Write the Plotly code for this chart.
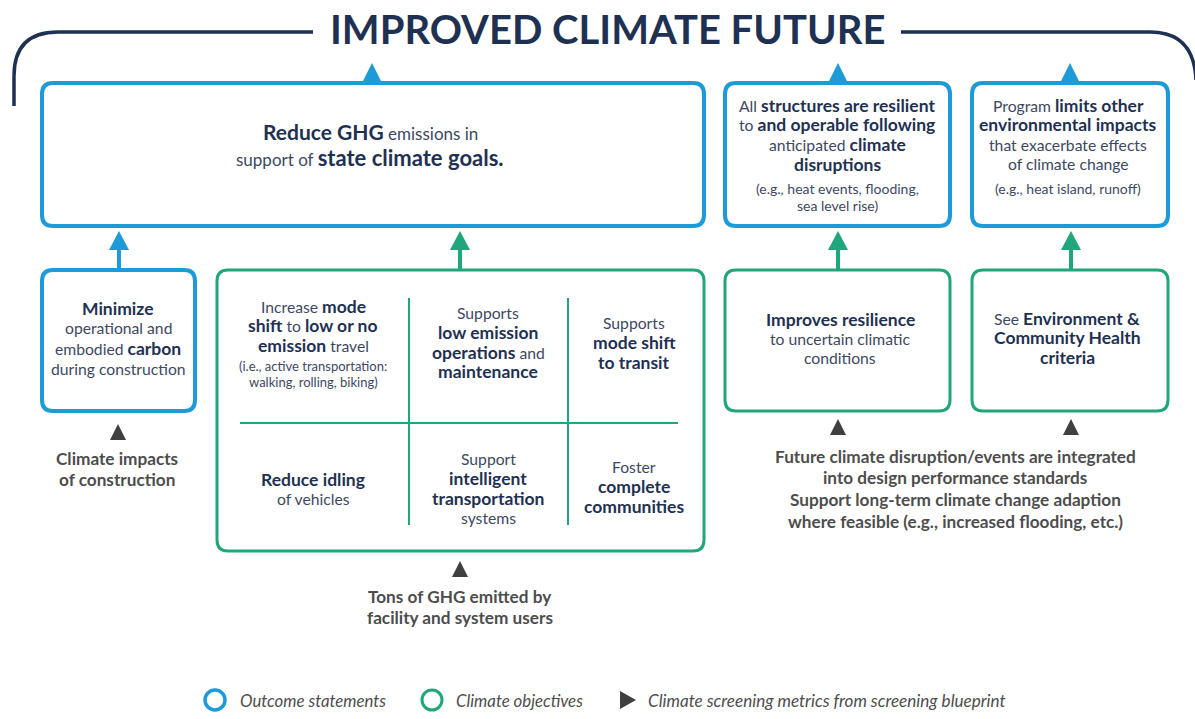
import plotly.graph_objects as go

W, H = 1195, 719
NAVY = "#1f3152"
TEXT = "#3d4862"
BLUE = "#1d9bd8"
GREEN = "#1fa67a"
DARK = "#404040"
GRAY = "#4d4d4d"
FONT = "Lato"

# ---------------- content ----------------
title_text = "IMPROVED CLIMATE FUTURE"

outcome_main = ["<b>Reduce GHG</b> emissions in",
                "support of <b>state climate goals.</b>"]
outcome_resilient = ["All <b>structures are resilient</b>",
                     "to <b>and operable following</b>",
                     "anticipated <b>climate</b>",
                     "<b>disruptions</b>"]
outcome_resilient_note = ["(e.g., heat events, flooding,", "sea level rise)"]
outcome_env = ["Program <b>limits other</b>",
               "<b>environmental impacts</b>",
               "that exacerbate effects",
               "of climate change"]
outcome_env_note = ["(e.g., heat island, runoff)"]

objective_carbon = ["<b>Minimize</b>", "operational and",
                    "embodied <b>carbon</b>", "during construction"]
objective_cells = [
    ["Increase <b>mode</b>", "<b>shift</b> to <b>low or no</b>", "<b>emission</b> travel"],
    ["Supports", "<b>low emission</b>", "<b>operations</b> and", "<b>maintenance</b>"],
    ["Supports", "<b>mode shift</b>", "<b>to transit</b>"],
    ["<b>Reduce idling</b>", "of vehicles"],
    ["Support", "<b>intelligent</b>", "<b>transportation</b>", "systems"],
    ["Foster", "<b>complete</b>", "<b>communities</b>"],
]
objective_cell1_note = ["(i.e., active transportation:", "walking, rolling, biking)"]
objective_resilience = ["<b>Improves resilience</b>", "to uncertain climatic", "conditions"]
objective_env = ["See <b>Environment &</b>", "<b>Community Health</b>", "<b>criteria</b>"]

metric_construction = ["Climate impacts", "of construction"]
metric_ghg = ["Tons of GHG emitted by", "facility and system users"]
metric_resilience = ["Future climate disruption/events are integrated",
                     "into design performance standards",
                     "Support long-term climate change adaption",
                     "where feasible (e.g., increased flooding, etc.)"]

legend_labels = ["Outcome statements", "Climate objectives",
                 "Climate screening metrics from screening blueprint"]

# ---------------- helpers ----------------
shapes = []
annotations = []


def rrect(x0, y0, x1, y1, r, color, w=4):
    p = (f"M{x0+r},{y0} L{x1-r},{y0} Q{x1},{y0} {x1},{y0+r} L{x1},{y1-r} "
         f"Q{x1},{y1} {x1-r},{y1} L{x0+r},{y1} Q{x0},{y1} {x0},{y1-r} "
         f"L{x0},{y0+r} Q{x0},{y0} {x0+r},{y0} Z")
    shapes.append(dict(type="path", path=p, line=dict(color=color, width=w),
                       fillcolor="rgba(0,0,0,0)", xref="x", yref="y"))


def tri_up(cx, ytip, ybase, half, color):
    p = f"M{cx-half},{ybase} L{cx+half},{ybase} L{cx},{ytip} Z"
    shapes.append(dict(type="path", path=p, line=dict(color=color, width=0),
                       fillcolor=color, xref="x", yref="y"))


def arrow_up(cx, ytop, ybot, color):
    shapes.append(dict(type="line", x0=cx, x1=cx, y0=ybot, y1=ytop + 16,
                       line=dict(color=color, width=4), xref="x", yref="y"))
    tri_up(cx, ytop, ytop + 19, 10, color)


def line(x0, y0, x1, y1, color, w=2):
    shapes.append(dict(type="line", x0=x0, x1=x1, y0=y0, y1=y1,
                       line=dict(color=color, width=w), xref="x", yref="y"))


def rich(t, bold_size, bold_color=NAVY):
    return (t.replace("<b>", f"<b><span style='font-size:{bold_size}px;color:{bold_color}'>")
             .replace("</b>", "</span></b>"))


def text_lines(lines, cx, y0, dy, size, color=TEXT, italic=False, anchor="center",
               bold_size=None):
    for i, t in enumerate(lines):
        if bold_size:
            t = rich(t, bold_size)
        if italic:
            t = f"<i>{t}</i>"
        annotations.append(dict(x=cx, y=y0 + i * dy, xref="x", yref="y", text=t,
                                showarrow=False, xanchor=anchor, yanchor="middle",
                                font=dict(family=FONT, size=size, color=color)))


REG, BOLD = 15.7, 17.5

# ---------------- bracket + title ----------------
bracket = ("M14,106 L14,76 Q14,32 58,32 L313,32 "
           "M901,32 L1150,32 Q1194,32 1196,80")
shapes.append(dict(type="path", path=bracket, line=dict(color=NAVY, width=3.5),
                   xref="x", yref="y"))
annotations.append(dict(x=607, y=29, xref="x", yref="y", text="<b>%s</b>" % title_text,
                        showarrow=False, xanchor="center", yanchor="middle",
                        font=dict(family=FONT, size=40, color=NAVY)))

# ---------------- top row: outcome statements ----------------
rrect(42, 83, 704, 226, 11, BLUE)
rrect(725, 83, 950, 226, 11, BLUE)
rrect(972, 83, 1168, 226, 11, BLUE)
for cx in (372, 838, 1070):
    tri_up(cx, 63, 83, 10, BLUE)

text_lines(outcome_main[:1], 370, 131, 0, 17, bold_size=21)
text_lines(outcome_main[1:], 370, 157, 0, 17, bold_size=22)

text_lines(outcome_resilient, 837, 105, 19.8, REG, bold_size=BOLD)
text_lines(outcome_resilient_note, 837, 188, 17, 14, TEXT)
text_lines(outcome_env, 1068, 105, 19.8, REG, bold_size=BOLD)
text_lines(outcome_env_note, 1068, 188, 17, 14, TEXT)

# ---------------- arrows ----------------
arrow_up(119, 231, 270, BLUE)
arrow_up(460, 231, 270, GREEN)
arrow_up(838, 231, 270, GREEN)
arrow_up(1071, 231, 270, GREEN)

# ---------------- middle row: objectives ----------------
rrect(42, 270, 195, 411, 11, BLUE)
text_lines(objective_carbon, 118, 308, 20.2, REG, bold_size=BOLD)

rrect(217, 270, 704, 551, 11, GREEN, 3)
line(409, 298, 409, 525, GREEN, 2)
line(568, 298, 568, 525, GREEN, 2)
line(240, 423, 678, 423, GREEN, 2)
cell_pos = [(313, 306), (488, 313), (634, 323), (313, 479), (488, 459), (634, 467)]
for lines_, (cx, cy) in zip(objective_cells, cell_pos):
    text_lines(lines_, cx, cy, 19.5, REG, bold_size=BOLD)
text_lines(objective_cell1_note, 313, 366, 16, 13, TEXT)

rrect(725, 270, 950, 411, 11, GREEN, 3)
text_lines(objective_resilience, 840, 319, 19.5, REG, bold_size=BOLD)
rrect(972, 270, 1168, 411, 11, GREEN, 3)
text_lines(objective_env, 1067, 318, 19.5, REG, bold_size=BOLD)

# ---------------- screening metrics ----------------
MET = 17.2
tri_up(118, 424, 440, 8, DARK)
text_lines(["<b>%s</b>" % s for s in metric_construction], 117, 458, 21, MET, GRAY)
tri_up(460, 561, 577, 8, DARK)
text_lines(["<b>%s</b>" % s for s in metric_ghg], 460, 596, 21, MET, GRAY)
tri_up(838, 419, 435, 8, DARK)
tri_up(1071, 419, 435, 8, DARK)
text_lines(["<b>%s</b>" % s for s in metric_resilience], 955, 456, 21.8, MET, GRAY)

# ---------------- legend ----------------
shapes.append(dict(type="circle", x0=205, x1=225, y0=690, y1=710,
                   line=dict(color=BLUE, width=3.5), xref="x", yref="y"))
shapes.append(dict(type="circle", x0=422, x1=442, y0=690, y1=710,
                   line=dict(color=GREEN, width=3), xref="x", yref="y"))
shapes.append(dict(type="path", path="M620,691 L636,700 L620,709 Z",
                   line=dict(color=DARK, width=0), fillcolor=DARK, xref="x", yref="y"))
for lbl, lx, fs in zip(legend_labels, (238, 454, 646), (16.8, 16.8, 17.1)):
    text_lines([lbl], lx, 700, 0, fs, GRAY, italic=True, anchor="left")

# ---------------- figure ----------------
fig = go.Figure()
fig.update_layout(
    width=W, height=H, margin=dict(l=0, r=0, t=0, b=0),
    paper_bgcolor="white", plot_bgcolor="white",
    xaxis=dict(range=[0, W], visible=False, fixedrange=True),
    yaxis=dict(range=[H, 0], visible=False, fixedrange=True),
    shapes=shapes, annotations=annotations, showlegend=False,
)
fig.write_html("out.html", config={"displayModeBar": False},
               post_script="document.body.style.margin='0';document.body.style.overflow='hidden';")
